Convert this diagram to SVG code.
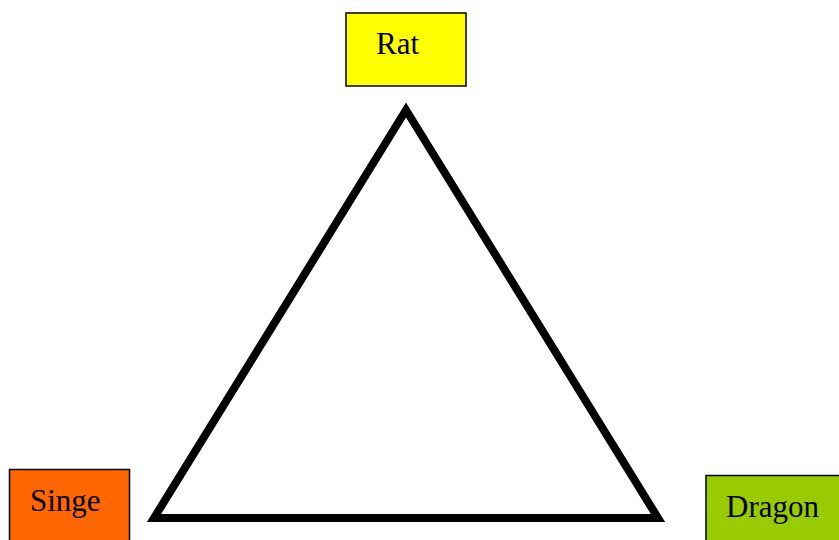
<svg xmlns="http://www.w3.org/2000/svg" width="839" height="540" viewBox="0 0 839 540">
<style>
.box{stroke:#000;stroke-width:1.5}
.lbl{font-family:"Liberation Serif","Times New Roman",serif;font-size:31px;fill:#000}
</style>
<rect width="839" height="540" fill="#fff"/>
<g id="connectors">
<polygon points="154,518 406,110 658,518" fill="none" stroke="#000" stroke-width="8" stroke-linejoin="miter" stroke-miterlimit="10"/>
</g>
<g id="rat">
<rect class="box" x="346" y="13" width="120" height="73" fill="#FFFF00"/>
<text class="lbl" x="376" y="54">Rat</text>
</g>
<g id="singe">
<rect class="box" x="9.5" y="469.5" width="120" height="80" fill="#FF6600"/>
<text class="lbl" x="30" y="511">Singe</text>
</g>
<g id="dragon">
<rect class="box" x="706" y="475.5" width="140" height="80" fill="#99CC00"/>
<text class="lbl" x="726" y="517">Dragon</text>
</g>
</svg>
